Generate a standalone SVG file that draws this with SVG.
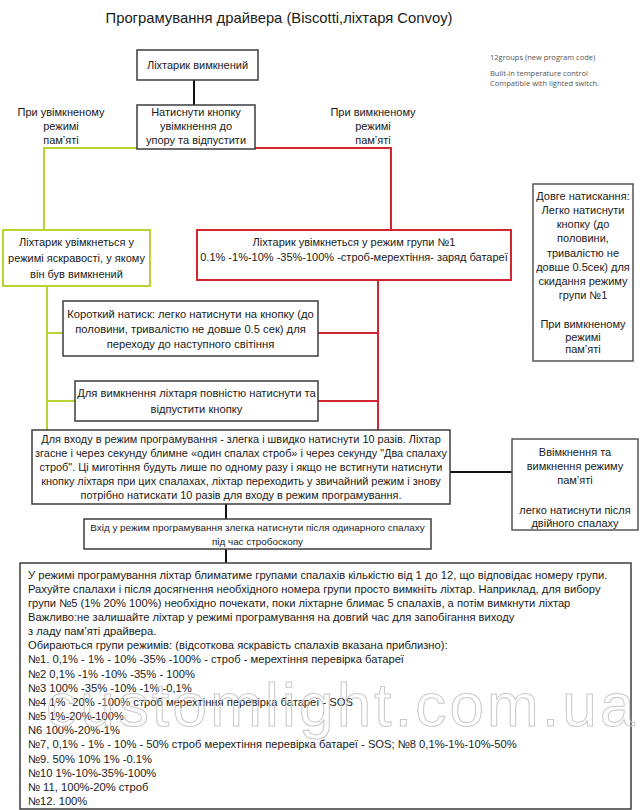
<svg xmlns="http://www.w3.org/2000/svg" width="640" height="810" viewBox="0 0 640 810">
<style>
.t{font-family:"Liberation Sans",Arial,sans-serif;font-size:11px;fill:#1a1a1a}
.m{font-size:11.2px}
.p{font-size:10.9px}
.e{font-size:9.9px}
.c{text-anchor:middle}
.box{fill:#fff;stroke:#3c3c3c;stroke-width:1.5}
.gbox{fill:#fff;stroke:#b8d432;stroke-width:2}
.rbox{fill:#fff;stroke:#d3262f;stroke-width:2}
.gl{fill:none;stroke:#b8d432;stroke-width:2}
.rl{fill:none;stroke:#d3262f;stroke-width:2}
.bl{fill:none;stroke:#111;stroke-width:2}
.info{font-family:"Open Sans","Liberation Sans",sans-serif;font-size:7.5px;fill:#555}
.wm{font-family:"Liberation Sans",Arial,sans-serif;font-size:62px;letter-spacing:3.2px;fill:none;stroke:#c9c9c9;stroke-width:1}
</style>
<rect width="640" height="810" fill="#fff"/>
<text class="t c" x="279" y="23" style="font-size:14.8px">Програмування драйвера (Biscotti,ліхтаря Convoy)</text>
<g id="info">
<text class="info" x="490" y="60">12groups (new program code)</text>
<text class="info" x="490" y="76">Built-in temperature control</text>
<text class="info" x="490" y="86">Compatible with lighted switch.</text>
</g>
<g id="connectors">
<path class="bl" d="M194,80V105"/>
<path class="gl" d="M137,148H44V230"/>
<path class="rl" d="M255,148H391V230"/>
<path class="gl" d="M47,286V430M47,333H63M47,401H75"/>
<path class="rl" d="M378,280V430M318,333H378M318,401H378"/>
<path class="bl" d="M450,472H512"/>
<path class="bl" d="M226,504V519M226,549V563"/>
</g>
<g id="label-left">
<text class="t c" x="61" y="116">При увімкненому</text>
<text class="t c" x="61" y="130">режимі</text>
<text class="t c" x="61" y="144">пам’яті</text>
</g>
<g id="label-right">
<text class="t c" x="373" y="116">При вимкненому</text>
<text class="t c" x="373" y="130">режимі</text>
<text class="t c" x="373" y="144">пам’яті</text>
</g>
<g id="off">
<rect class="box" x="137" y="50" width="121" height="30"/>
<text class="t c" x="197.5" y="69">Ліхтарик вимкнений</text>
</g>
<g id="press">
<rect class="box" x="137" y="105" width="118" height="44"/>
<text class="t c" x="196" y="116">Натиснути кнопку</text>
<text class="t c" x="196" y="130">увімкнення до</text>
<text class="t c" x="196" y="144">упору та відпустити</text>
</g>
<g id="memory-on">
<rect class="gbox" x="3" y="230" width="147" height="56"/>
<text class="t c" x="76.5" y="246">Ліхтарик увімкнеться у</text>
<text class="t c" x="76.5" y="262">режимі яскравості, у якому</text>
<text class="t c" x="76.5" y="278">він був вимкнений</text>
</g>
<g id="memory-off">
<rect class="rbox" x="197" y="230" width="314" height="50"/>
<text class="t c" x="354" y="246">Ліхтарик увімкнеться у режим групи №1</text>
<text class="t c" x="354" y="261">0.1% -1%-10% -35%-100% -строб-мерехтіння- заряд батареї</text>
</g>
<g id="short-press">
<rect class="box" x="63" y="301" width="255" height="55"/>
<text class="t c m" x="190.5" y="318">Короткий натиск: легко натиснути на кнопку (до</text>
<text class="t c m" x="190.5" y="333">половини, тривалістю не довше 0.5 сек) для</text>
<text class="t c m" x="190.5" y="348">переходу до наступного світіння</text>
</g>
<g id="switch-off">
<rect class="box" x="75" y="381" width="243" height="40"/>
<text class="t c m" x="196.5" y="397">Для вимкнення ліхтаря повністю натиснути та</text>
<text class="t c m" x="196.5" y="413">відпустити кнопку</text>
</g>
<g id="long-press">
<rect class="box" x="533" y="184" width="100" height="177" style="stroke:#555"/>
<text class="t c" x="583" y="200">Довге натискання:</text>
<text class="t c" x="583" y="214">Легко натиснути</text>
<text class="t c" x="583" y="228">кнопку (до</text>
<text class="t c" x="583" y="242">половини,</text>
<text class="t c" x="583" y="257">тривалістю не</text>
<text class="t c" x="583" y="271">довше 0.5сек) для</text>
<text class="t c" x="583" y="285">скидання режиму</text>
<text class="t c" x="583" y="299">групи №1</text>
<text class="t c" x="583" y="328">При вимкненому</text>
<text class="t c" x="583" y="341">режимі</text>
<text class="t c" x="583" y="353">пам’яті</text>
</g>
<g id="programming">
<rect class="box" x="32" y="430" width="418" height="74"/>
<text class="t c p" x="241" y="443">Для входу в режим програмування - злегка і швидко натиснути 10 разів. Ліхтар</text>
<text class="t c p" x="241" y="457">згасне і через секунду блимне «один спалах строб» і через секунду "Два спалаху</text>
<text class="t c p" x="241" y="471">строб". Ці миготіння будуть лише по одному разу і якщо не встигнути натиснути</text>
<text class="t c p" x="241" y="485">кнопку ліхтаря при цих спалахах, ліхтар переходить у звичайний режим і знову</text>
<text class="t c p" x="241" y="499">потрібно натискати 10 разів для входу в режим програмування.</text>
</g>
<g id="memory-toggle">
<rect class="box" x="512" y="439" width="126" height="91" style="stroke:#555"/>
<text class="t c" x="575" y="456">Ввімкнення та</text>
<text class="t c" x="575" y="470">вимкнення режиму</text>
<text class="t c" x="575" y="484">пам’яті</text>
<text class="t c" x="575" y="514">легко натиснути після</text>
<text class="t c" x="575" y="527">двійного спалаху</text>
</g>
<g id="enter">
<rect class="box" x="84" y="519" width="347" height="30"/>
<text class="t c e" x="257.5" y="531">Вхід у режим програмування злегка натиснути після одинарного спалаху</text>
<text class="t c e" x="257.5" y="545">під час стробоскопу</text>
</g>
<g id="groups">
<rect class="box" x="20" y="563" width="611" height="246"/>
<text class="t m" x="28" y="579">У режимі програмування ліхтар блиматиме групами спалахів кількістю від 1 до 12, що відповідає номеру групи.</text>
<text class="t m" x="28" y="593">Рахуйте спалахи і після досягнення необхідного номера групи просто вимкніть ліхтар. Наприклад, для вибору</text>
<text class="t m" x="28" y="607">групи №5 (1% 20% 100%) необхідно почекати, поки ліхтарне блимає 5 спалахів, а потім вимкнути ліхтар</text>
<text class="t m" x="28" y="621">Важливо:не залишайте ліхтар у режимі програмування на довгий час для запобігання виходу</text>
<text class="t m" x="28" y="635">з ладу пам’яті драйвера.</text>
<text class="t m" x="28" y="649">Обираються групи режимів: (відсоткова яскравість спалахів вказана приблизно):</text>
<text class="t m" x="28" y="663">№1. 0,1% - 1% - 10% -35% -100% - строб - мерехтіння перевірка батареї</text>
<text class="t m" x="28" y="678">№2 0,1% -1% -10% -35% - 100%</text>
<text class="t m" x="28" y="692">№3 100% -35% -10% -1% -0,1%</text>
<text class="t m" x="28" y="706">№4 1% -20% -100% строб мерехтіння перевірка батареї - SOS</text>
<text class="t m" x="28" y="720">№5 1%-20%-100%</text>
<text class="t m" x="28" y="734">N6 100%-20%-1%</text>
<text class="t m" x="28" y="748">№7, 0,1% - 1% - 10% - 50% строб мерехтіння перевірка батареї - SOS; №8 0,1%-1%-10%-50%</text>
<text class="t m" x="28" y="763">№9. 50% 10% 1% -0.1%</text>
<text class="t m" x="28" y="777">№10 1%-10%-35%-100%</text>
<text class="t m" x="28" y="791">№ 11, 100%-20% строб</text>
<text class="t m" x="28" y="805">№12. 100%</text>
</g>
<text class="wm" x="46" y="726">customlight.com.ua</text>
</svg>
